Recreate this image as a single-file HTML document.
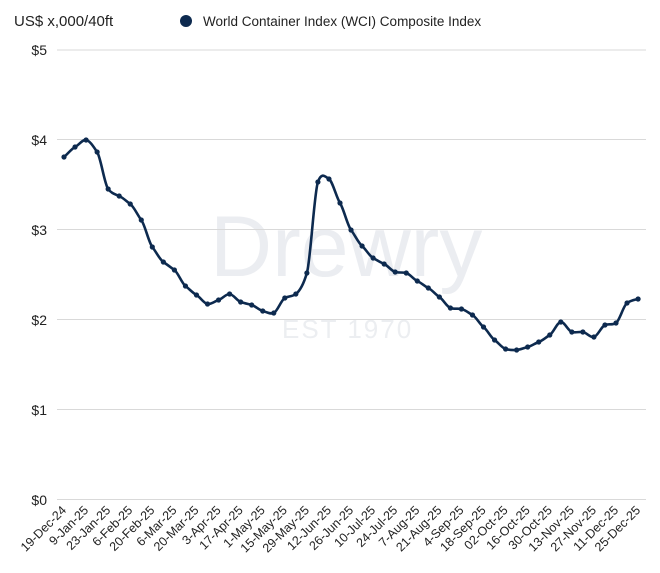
<!DOCTYPE html>
<html><head><meta charset="utf-8"><style>
body{margin:0;background:#fff;}
svg{display:block;font-family:"Liberation Sans",Arial,sans-serif;}
</style></head><body>
<svg width="660" height="573" viewBox="0 0 660 573" xmlns="http://www.w3.org/2000/svg">
<rect width="660" height="573" fill="#fff"/>
<text x="210" y="276" font-size="86" fill="#ebedf1">Drewry</text>
<text x="282" y="338" font-size="26" fill="#eceef1" letter-spacing="2">EST 1970</text>
<g stroke="#d9d9d9" stroke-width="1">
<line x1="57" x2="646" y1="50" y2="50"/><line x1="57" x2="646" y1="139.5" y2="139.5"/>
<line x1="57" x2="646" y1="229.5" y2="229.5"/><line x1="57" x2="646" y1="319.5" y2="319.5"/>
<line x1="57" x2="646" y1="409.5" y2="409.5"/><line x1="57" x2="646" y1="499.5" y2="499.5"/>
</g>
<g font-size="14" fill="#222" text-anchor="end">
<text x="47" y="55">$5</text><text x="47" y="145">$4</text><text x="47" y="235">$3</text>
<text x="47" y="325">$2</text><text x="47" y="415">$1</text><text x="47" y="505">$0</text>
</g>
<text x="14" y="26" font-size="15" fill="#222">US$ x,000/40ft</text>
<circle cx="186" cy="21" r="6" fill="#0d2a4f"/>
<text x="203" y="26" font-size="13.5" fill="#222">World Container Index (WCI) Composite Index</text>
<g id="s"></g>
<g id="xl" font-size="12.5" fill="#222" text-anchor="end"></g>
</svg>
<script>
var ys=[157,147,140,152,189,196,204,220,247,262,270,286,295,304,300,294,302,305,311,313,298,294,273,182,179,203,230,246,258,264,272,273,281,288,297,308,309,315,327,340,349,350,347,342,335,322,332,332,337,325,323,303,299];
var ns="http://www.w3.org/2000/svg",g=document.getElementById('s');
var pts=ys.map(function(y,i){return [64+i*11.04,y];});
var d="M"+pts[0][0]+","+pts[0][1],k=9;
for(var i=0;i<pts.length-1;i++){var p0=pts[i-1]||pts[i],p1=pts[i],p2=pts[i+1],p3=pts[i+2]||p2;
d+=" C"+(p1[0]+(p2[0]-p0[0])/6)+","+(p1[1]+(p2[1]-p0[1])/k)+" "+(p2[0]-(p3[0]-p1[0])/6)+","+(p2[1]-(p3[1]-p1[1])/k)+" "+p2[0]+","+p2[1];}
var pa=document.createElementNS(ns,'path');pa.setAttribute('d',d);pa.setAttribute('fill','none');pa.setAttribute('stroke','#0d2a4f');pa.setAttribute('stroke-width','2.6');g.appendChild(pa);
pts.forEach(function(p){var c=document.createElementNS(ns,'circle');c.setAttribute('cx',p[0]);c.setAttribute('cy',p[1]);c.setAttribute('r','2.6');c.setAttribute('fill','#0d2a4f');g.appendChild(c);});
var L=["19-Dec-24","9-Jan-25","23-Jan-25","6-Feb-25","20-Feb-25","6-Mar-25","20-Mar-25","3-Apr-25","17-Apr-25","1-May-25","15-May-25","29-May-25","12-Jun-25","26-Jun-25","10-Jul-25","24-Jul-25","7-Aug-25","21-Aug-25","4-Sep-25","18-Sep-25","02-Oct-25","16-Oct-25","30-Oct-25","13-Nov-25","27-Nov-25","11-Dec-25","25-Dec-25"];
var xl=document.getElementById('xl');
L.forEach(function(t,i){var x=67+i*22.08,y=511;var e=document.createElementNS(ns,'text');e.setAttribute('x',x);e.setAttribute('y',y);e.setAttribute('transform','rotate(-45 '+x+' '+y+')');e.textContent=t;xl.appendChild(e);});
</script>
</body></html>
